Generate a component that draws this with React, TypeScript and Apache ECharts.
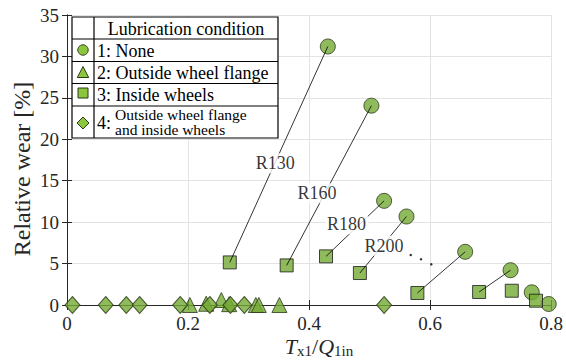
import React, { useEffect, useRef } from 'react';
import * as echarts from 'echarts';

const FONT = "'Liberation Serif', 'Times New Roman', serif";

// Series 1: no lubrication (circles)
const noneData = [
  [0.431, 31.2], [0.503, 24.06], [0.524, 12.57], [0.561, 10.68],
  [0.658, 6.42], [0.733, 4.2], [0.768, 1.53], [0.796, 0.12],
];
// Series 2: outside wheel flange (triangles)
const flangeData = [
  [0.203, 0], [0.230, 0.15], [0.255, 0.6], [0.268, 0.1],
  [0.312, 0], [0.317, 0], [0.351, 0],
];
// Series 3: inside wheels (squares)
const insideData = [
  [0.269, 5.14], [0.363, 4.78], [0.428, 5.87], [0.484, 3.86],
  [0.579, 1.45], [0.681, 1.57], [0.735, 1.72], [0.775, 0.52],
];
// Series 4: outside wheel flange and inside wheels (diamonds)
const bothData = [
  [0.009, 0], [0.064, 0], [0.098, 0], [0.120, 0], [0.187, 0],
  [0.236, 0], [0.270, 0], [0.293, 0], [0.524, 0],
];
// Connections: [inside-wheels index, none index]
const pairs = [[0, 0], [1, 1], [2, 2], [3, 3], [4, 4], [5, 5]];
// Curve radius annotations
const radiusLabels = ['R130', 'R160', 'R180', 'R200'];
const radiusLabelPos = [[0.344, 17.1], [0.413, 13.48], [0.462, 9.74], [0.524, 7.16]];
// Continuation dots
const dotsData = [[0.568, 6.03], [0.585, 5.52], [0.602, 4.91]];

const legendTitle = 'Lubrication condition';
const legendItems = ['1: None', '2: Outside wheel flange', '3: Inside wheels'];
const legendItem4 = ['4:', 'Outside wheel flange\nand inside wheels'];

const FILL = '#74aa34';
const EDGE = '#2b3a18';
const LFILL = '#8cc63f';

export default function App() {
  const ref = useRef<HTMLDivElement>(null);
  useEffect(() => {
    const chart = echarts.init(ref.current!, null, { renderer: 'svg' });
    const axisColor = '#262626';
    const tickStyle = { color: axisColor, fontFamily: FONT, fontSize: 19 };
    const markerStyle = { color: FILL, borderColor: EDGE, borderWidth: 1 };

    const lineSeries = pairs.map(([si, ci]) => ({
      type: 'line',
      data: [insideData[si], noneData[ci]],
      symbol: 'none',
      silent: true,
      z: 5,
      lineStyle: { color: '#000', width: 0.8 },
    }));

    const t = (text: string, x: number, y: number, extra: any = {}) => ({
      type: 'text', x, y, z: 101,
      style: { text, fontFamily: FONT, fontSize: 18, fill: '#000', verticalAlign: 'middle', ...extra },
    });

    const option: any = {
      animation: false,
      backgroundColor: '#fff',
      grid: { left: 67, right: 11, top: 15, bottom: 57, containLabel: false },
      xAxis: [
        {
          type: 'value', min: 0, max: 0.8, interval: 0.2, position: 'bottom',
          axisLine: { show: true, lineStyle: { color: axisColor, width: 1 } },
          axisTick: { show: true, inside: true, length: 5, lineStyle: { color: axisColor } },
          axisLabel: { ...tickStyle, margin: 9 },
          splitLine: { show: true, lineStyle: { color: '#e3e3e3', width: 1 } },
        },
        {
          type: 'value', min: 0, max: 0.8, interval: 0.2, position: 'top',
          axisLine: { show: true, lineStyle: { color: axisColor, width: 1 } },
          axisTick: { show: true, inside: true, length: 5, lineStyle: { color: axisColor } },
          axisLabel: { show: false },
          splitLine: { show: false },
        },
      ],
      yAxis: [
        {
          type: 'value', min: 0, max: 35, interval: 5, position: 'left',
          axisLine: { show: true, lineStyle: { color: axisColor, width: 1 } },
          axisTick: { show: true, inside: true, length: 5, lineStyle: { color: axisColor } },
          axisLabel: { ...tickStyle, margin: 8 },
          splitLine: { show: true, lineStyle: { color: '#e3e3e3', width: 1 } },
        },
        {
          type: 'value', min: 0, max: 35, interval: 5, position: 'right',
          axisLine: { show: true, lineStyle: { color: axisColor, width: 1 } },
          axisTick: { show: true, inside: true, length: 5, lineStyle: { color: axisColor } },
          axisLabel: { show: false },
          splitLine: { show: false },
        },
      ],
      series: [
        { type: 'scatter', name: '1', data: noneData, symbol: 'circle', symbolSize: 15, itemStyle: markerStyle, z: 2 },
        { type: 'scatter', name: '2', data: flangeData, symbol: 'triangle', symbolSize: [15, 15], itemStyle: markerStyle, z: 2 },
        { type: 'scatter', name: '3', data: insideData, symbol: 'rect', symbolSize: 13, itemStyle: { ...markerStyle, borderColor: '#1a1a1a' }, z: 2 },
        { type: 'scatter', name: '4', data: bothData, symbol: 'diamond', symbolSize: [15, 17], itemStyle: markerStyle, z: 2 },
        ...lineSeries,
        {
          type: 'scatter', data: dotsData, symbol: 'circle', symbolSize: 2.5,
          itemStyle: { color: '#000' }, z: 6, silent: true,
        },
        {
          type: 'scatter', z: 10, silent: true,
          data: radiusLabels.map((name, i) => ({ name, value: radiusLabelPos[i] })),
          symbolSize: 1, itemStyle: { color: 'rgba(0,0,0,0)' },
          label: {
            show: true, position: 'inside', formatter: '{b}',
            fontFamily: FONT, fontSize: 18, color: '#000',
            backgroundColor: '#fff', padding: [1, 2],
          },
        },
      ],
      graphic: [
        // Legend box
        { type: 'rect', z: 100, shape: { x: 72, y: 17, width: 206, height: 121 }, style: { fill: '#fff', stroke: '#000', lineWidth: 1.2 } },
        { type: 'line', z: 101, shape: { x1: 94, y1: 17, x2: 94, y2: 138 }, style: { stroke: '#000', lineWidth: 1.2 } },
        { type: 'line', z: 101, shape: { x1: 72, y1: 39, x2: 278, y2: 39 }, style: { stroke: '#000', lineWidth: 1.2 } },
        { type: 'line', z: 101, shape: { x1: 72, y1: 61.5, x2: 278, y2: 61.5 }, style: { stroke: '#000', lineWidth: 1.2 } },
        { type: 'line', z: 101, shape: { x1: 72, y1: 83.5, x2: 278, y2: 83.5 }, style: { stroke: '#000', lineWidth: 1.2 } },
        { type: 'line', z: 101, shape: { x1: 72, y1: 106, x2: 278, y2: 106 }, style: { stroke: '#000', lineWidth: 1.2 } },
        t(legendTitle, 186, 28.5, { align: 'center' }),
        t(legendItems[0], 97, 50.5),
        t(legendItems[1], 97, 72.5),
        t(legendItems[2], 97, 94.5),
        t(legendItem4[0], 97, 123),
        t(legendItem4[1], 115, 122, { fontSize: 15.5, lineHeight: 15.5 }),
        { type: 'circle', z: 101, shape: { cx: 83, cy: 50, r: 5.2 }, style: { fill: LFILL, stroke: EDGE, lineWidth: 1 } },
        { type: 'polygon', z: 101, shape: { points: [[83, 66.5], [77.3, 77.5], [88.7, 77.5]] }, style: { fill: LFILL, stroke: EDGE, lineWidth: 1 } },
        { type: 'rect', z: 101, shape: { x: 78, y: 88, width: 10, height: 10 }, style: { fill: LFILL, stroke: EDGE, lineWidth: 1 } },
        { type: 'polygon', z: 101, shape: { points: [[83, 117], [89, 123], [83, 129], [77, 123]] }, style: { fill: LFILL, stroke: EDGE, lineWidth: 1 } },
        // Axis titles
        {
          type: 'text', x: 22, y: 169, rotation: Math.PI / 2, z: 101,
          style: { text: 'Relative wear [%]', fontFamily: FONT, fontSize: 24, fill: axisColor, align: 'center', verticalAlign: 'middle' },
        },
        {
          type: 'text', x: 319, y: 345, z: 101,
          style: {
            text: '{i|T}{s|x1}{n|/}{i|Q}{s|1in}',
            align: 'center', verticalAlign: 'middle', fill: axisColor,
            rich: {
              i: { fontFamily: FONT, fontStyle: 'italic', fontSize: 22, lineHeight: 20, verticalAlign: 'top', fill: axisColor },
              n: { fontFamily: FONT, fontSize: 22, lineHeight: 20, verticalAlign: 'top', fill: axisColor },
              s: { fontFamily: FONT, fontSize: 15, lineHeight: 14, padding: [8, 0, 0, 0], verticalAlign: 'top', fill: axisColor },
            },
          },
        },
      ],
    };
    chart.setOption(option);
    return () => chart.dispose();
  }, []);
  return <div ref={ref} style={{ position: 'fixed', left: 0, top: 0, width: 566, height: 362, background: '#fff' }} />;
}
